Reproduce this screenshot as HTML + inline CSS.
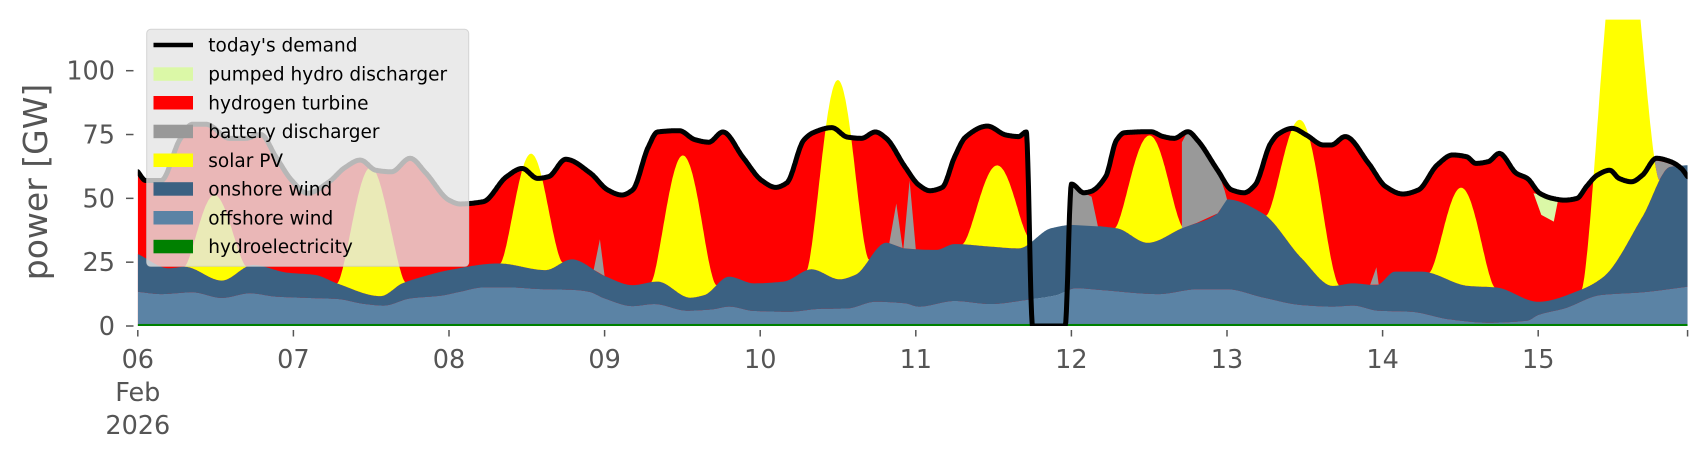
<!DOCTYPE html>
<html><head><meta charset="utf-8">
<style>
html,body{margin:0;padding:0;background:#fff;}
svg{display:block;}
text{font-family:"DejaVu Sans","Liberation Sans",sans-serif;}
</style></head>
<body>
<svg id="s" width="1706" height="460" viewBox="0 0 1706 460" xmlns="http://www.w3.org/2000/svg">
<defs><clipPath id="cp"><rect x="137.8" y="19.6" width="1549.8" height="306.4"/></clipPath></defs>
<g id="plot" clip-path="url(#cp)"></g>
<g id="axes" fill="#555" font-size="25.5"></g>
<text x="0" y="0" font-size="33" fill="#555" text-anchor="middle" transform="translate(47,182) rotate(-90)">power [GW]</text>
<g id="legend">
<rect x="146.7" y="29.3" width="322" height="237" rx="4" fill="#e5e5e5" fill-opacity="0.8" stroke="#cccccc" stroke-opacity="0.8" stroke-width="1"/>
<line x1="153.5" y1="45" x2="193" y2="45" stroke="#000" stroke-width="4.5"/>
<rect x="153.5" y="67.3" width="39.5" height="13.5" fill="#dbf8a7"/>
<rect x="153.5" y="96" width="39.5" height="13.5" fill="#ff0000"/>
<rect x="153.5" y="124.7" width="39.5" height="13.5" fill="#999999"/>
<rect x="153.5" y="153.5" width="39.5" height="13.5" fill="#ffff00"/>
<rect x="153.5" y="182.2" width="39.5" height="13.5" fill="#3b6182"/>
<rect x="153.5" y="211" width="39.5" height="13.5" fill="#5b83a5"/>
<rect x="153.5" y="239.8" width="39.5" height="13.5" fill="#008000"/>
<g font-size="18.5" fill="#000">
<text x="208.3" y="51.5">today's demand</text>
<text x="208.3" y="80.5">pumped hydro discharger</text>
<text x="208.3" y="109.3">hydrogen turbine</text>
<text x="208.3" y="138">battery discharger</text>
<text x="208.3" y="166.8">solar PV</text>
<text x="208.3" y="195.5">onshore wind</text>
<text x="208.3" y="224.3">offshore wind</text>
<text x="208.3" y="253">hydroelectricity</text>
</g>
</g>
</svg>
<script>
(function(){
var X=function(t){return 137.8+155.6*t;}, Y=function(g){return 326-2.553*g;};
function prep(a){var n=a.length,d=[],m=[];for(var i=0;i<n-1;i++)d.push((a[i+1][1]-a[i][1])/(a[i+1][0]-a[i][0]));
 m[0]=d[0];m[n-1]=d[n-2];for(var i=1;i<n-1;i++){ if(d[i-1]*d[i]<=0)m[i]=0; else {var h0=a[i][0]-a[i-1][0],h1=a[i+1][0]-a[i][0];var w1=2*h1+h0,w2=h1+2*h0;m[i]=(w1+w2)/(w1/d[i-1]+w2/d[i]);} }
 a.m=m;return a;}
function interp(a,t){ if(t<=a[0][0])return a[0][1]; for(var i=1;i<a.length;i++){ if(t<=a[i][0]){var p=a[i-1],q=a[i];var h=q[0]-p[0],s=(t-p[0])/h;var h00=2*s*s*s-3*s*s+1,h10=s*s*s-2*s*s+s,h01=-2*s*s*s+3*s*s,h11=s*s*s-s*s;return h00*p[1]+h10*h*a.m[i-1]+h01*q[1]+h11*h*a.m[i];} } return a[a.length-1][1]; }
var off=prep([[0,13.4],[.15,12.5],[.35,13.2],[.54,11],[.72,12.8],[.89,11.5],[1.09,11],[1.28,10.6],[1.46,8.6],[1.58,8],[1.75,10.8],[1.95,11.9],[2.07,13.4],[2.22,15.1],[2.4,15.1],[2.57,14.5],[2.81,14.1],[2.9,13.4],[3.0,10.8],[3.18,7.8],[3.32,8.6],[3.53,6],[3.69,6.5],[3.8,7.6],[3.96,5.9],[4.19,5.6],[4.38,6.7],[4.56,6.9],[4.74,9.5],[4.93,8.9],[5.02,7.6],[5.25,9.8],[5.48,8.6],[5.71,10.2],[5.9,12],[6.03,14.8],[6.19,14.1],[6.56,12.5],[6.81,14.4],[7.0,14.4],[7.23,11.2],[7.48,8.2],[7.68,7.6],[7.81,8],[7.97,6],[8.18,5.6],[8.43,2.6],[8.68,1.3],[8.93,2.1],[9.0,4.3],[9.17,6.9],[9.4,12.1],[9.67,13.2],[9.96,15.4]]);
var on=prep([[0,28.2],[.2,22.6],[.3,23.2],[.54,17.8],[.74,23.9],[.96,20.9],[1.14,20],[1.28,16.7],[1.56,11.7],[1.7,16.7],[1.83,19.3],[2.0,21.9],[2.32,24.5],[2.62,21.9],[2.79,26.1],[3.0,19.6],[3.18,16],[3.34,17.4],[3.55,11.1],[3.64,12.1],[3.8,19.3],[3.96,16.7],[4.15,17.4],[4.33,22.2],[4.51,18.3],[4.61,20],[4.81,32.6],[4.93,30.4],[5.13,29.8],[5.25,32.1],[5.48,31.1],[5.66,30.4],[5.87,38.3],[6.01,39.6],[6.29,38.3],[6.49,32.6],[6.71,38.3],[6.94,44.1],[7.0,49.6],[7.23,44.1],[7.48,26.5],[7.68,15.7],[7.81,16.7],[7.96,16],[8.08,21.3],[8.25,21.3],[8.55,15.7],[8.73,15.1],[9.0,9.5],[9.27,14.1],[9.42,19.3],[9.67,42.8],[9.85,62.4],[9.96,63]]);
var dem=prep([[0,60.4],[.05,57],[.15,57],[.27,73],[.35,79],[.44,79],[.59,73.5],[.69,73.5],[.79,75],[.89,66],[.99,57],[1.09,52],[1.23,56.5],[1.33,62],[1.43,65],[1.53,61],[1.63,60.4],[1.75,65.7],[1.85,60],[2.0,49.3],[2.07,47.8],[2.22,48.7],[2.37,58.5],[2.47,61.7],[2.57,57.8],[2.64,58.5],[2.75,65.3],[2.91,59.8],[3.02,53.3],[3.11,51.3],[3.18,53.3],[3.28,70],[3.34,76],[3.48,76.5],[3.58,73],[3.67,72],[3.76,76],[3.89,66],[4.01,57],[4.10,54.3],[4.17,56],[4.28,72.8],[4.34,75.7],[4.46,77.7],[4.56,74],[4.65,73.5],[4.74,76],[4.81,73.5],[4.93,62.4],[5.02,55.2],[5.09,53],[5.17,54.3],[5.25,66.3],[5.32,74],[5.46,78.3],[5.58,74.8],[5.66,74.2],[5.71,76],[5.75,0],[5.96,0],[6.0,55.6],[6.08,52.2],[6.12,52.6],[6.22,58.5],[6.29,72.8],[6.34,75.7],[6.51,76.1],[6.59,74.2],[6.66,73.5],[6.75,76.1],[6.81,72.8],[6.94,61],[7.03,53.3],[7.11,52.2],[7.18,55.2],[7.28,71.5],[7.33,75.2],[7.42,77.4],[7.51,74.8],[7.62,70.9],[7.67,70.9],[7.76,74.2],[7.91,63.7],[8.02,54.6],[8.13,51.7],[8.23,53.3],[8.35,63],[8.45,67],[8.54,66.3],[8.60,63.7],[8.68,64.4],[8.75,67.6],[8.86,59.8],[8.93,57.8],[9.01,52],[9.09,50],[9.17,49.3],[9.25,50],[9.31,54.6],[9.38,59.1],[9.46,61],[9.52,57.8],[9.60,56.5],[9.67,59.1],[9.76,65.7],[9.85,64.4],[9.92,61.7],[9.96,58.5]]);
var sol=[[0.3,0.7,33],[1.28,1.72,50],[2.33,2.73,45],[3.3,3.72,55],[4.3,4.7,78],[5.3,5.75,32],[6.28,6.72,42],[7.25,7.72,54],[8.3,8.72,38],[9.28,9.78,135]];
function solar(t){for(var i=0;i<sol.length;i++){var s=sol[i];if(t>s[0]&&t<s[1]){var u=(t-s[0])/(s[1]-s[0]);return s[2]*Math.pow(Math.sin(Math.PI*u),1.5);}}return 0;}
var T=[];for(var t=0;t<=9.96+1e-9;t+=0.004)T.push(+t.toFixed(3));
[5.71,5.75,5.96,6.0].forEach(function(v){T.push(v);});T.sort(function(a,b){return a-b;});
function band(lo,hi,color){var up=[],dn=[];T.forEach(function(t){up.push(X(t).toFixed(1)+','+Y(hi(t)).toFixed(1));dn.push(X(t).toFixed(1)+','+Y(lo(t)).toFixed(1));});return '<path d="M'+up.join('L')+'L'+dn.reverse().join('L')+'Z" fill="'+color+'"/>';}
function poly(pts,color){return '<path d="M'+pts.map(function(p){return X(p[0]).toFixed(1)+','+Y(p[1]).toFixed(1);}).join('L')+'Z" fill="'+color+'"/>';}
var demPts=T.map(function(t){return X(t).toFixed(1)+','+Y(Math.max(0,interp(dem,t))).toFixed(1);});
var h='';
h+='<path d="M'+X(0)+','+Y(0)+'L'+demPts.join('L')+'L'+X(9.96)+','+Y(0)+'Z" fill="#ff0000"/>';
h+=band(function(){return 0;},function(t){return interp(off,t);},'#5b83a5');
h+=band(function(t){return interp(off,t);},function(t){return interp(on,t);},'#3b6182');
h+=band(function(t){return interp(on,t);},function(t){return interp(on,t)+solar(t);},'#ffff00');
var onf=function(t){return interp(on,t);};
h+=poly([[2.93,onf(2.93)],[2.97,34],[3.0,onf(3.0)]],'#999999');
h+=poly([[4.83,onf(4.83)],[4.875,48],[4.915,onf(4.915)]],'#999999');
h+=poly([[4.92,onf(4.92)],[4.96,57],[5.0,onf(5.0)]],'#999999');
h+=poly([[6.0,39.6],[6.0,55],[6.08,52.2],[6.13,50.6],[6.17,39]],'#999999');
h+=poly([[6.71,38.3],[6.71,72],[6.745,76],[6.81,72.8],[6.94,61],[6.985,53],[7.0,49.6],[6.94,44.1],[6.81,40.5]],'#999999');
h+=poly([[7.92,onf(7.92)],[7.96,23],[7.975,onf(7.975)]],'#999999');
var gp=[],gb=[];for(var t=9.66;t<=9.96+1e-9;t+=0.005){var b=interp(on,t)+solar(t);var tp=Math.max(b,interp(dem,t)-1);gp.push([t,tp]);gb.push([t,b]);}
h+=poly(gp.concat(gb.reverse()),'#999999');
h+=poly([[8.97,52],[9.13,50],[9.1,40.9],[9.02,43.5]],'#dbf8a7');
h+='<rect x="137.8" y="'+Y(0.8)+'" width="1549.8" height="'+(2.553*0.8+1)+'" fill="#008000"/>';
h+='<path d="M'+demPts.join('L')+'" fill="none" stroke="#000" stroke-width="5" stroke-linejoin="round" stroke-linecap="round"/>';
document.getElementById('plot').innerHTML=h;
var a='';
[0,25,50,75,100].forEach(function(v){var y=Y(v);a+='<line x1="126" y1="'+y+'" x2="133.5" y2="'+y+'" stroke="#555" stroke-width="1.5"/><text x="115" y="'+(y+9)+'" text-anchor="end">'+v+'</text>';});
var lab=['06','07','08','09','10','11','12','13','14','15'];
for(var i=0;i<=10;i++){var x=X(i>9?9.96:i);a+='<line x1="'+x+'" y1="330" x2="'+x+'" y2="336.5" stroke="#555" stroke-width="1.5"/>';if(i<10)a+='<text x="'+x+'" y="368" text-anchor="middle">'+lab[i]+'</text>';}
a+='<text x="'+X(0)+'" y="401" text-anchor="middle">Feb</text><text x="'+X(0)+'" y="434" text-anchor="middle">2026</text>';
document.getElementById('axes').innerHTML=a;
})();
</script>
</body></html>
